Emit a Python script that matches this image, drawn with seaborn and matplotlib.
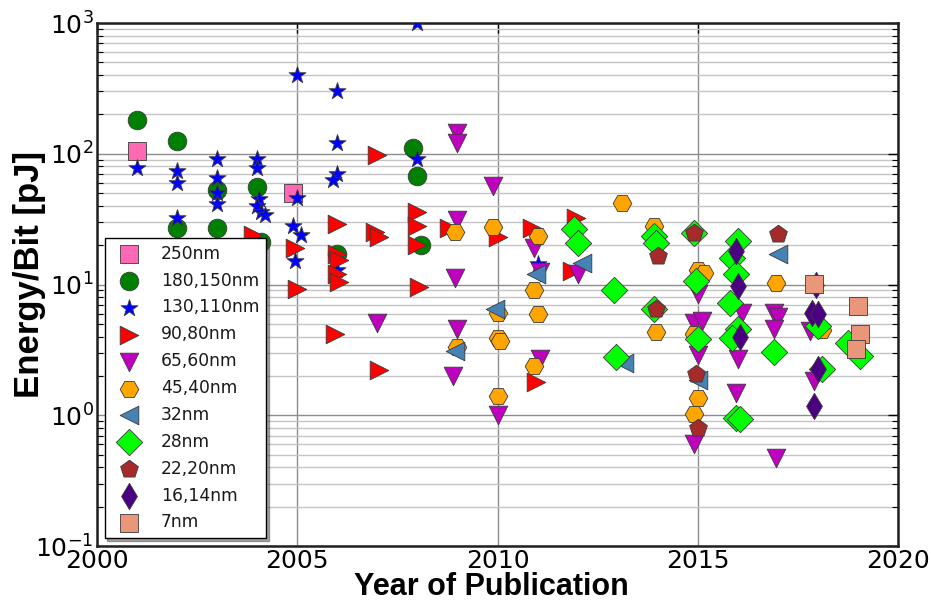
import matplotlib
matplotlib.use("Agg")
import matplotlib.pyplot as plt
import seaborn as sns
import pandas as pd
from matplotlib.ticker import LogLocator, NullFormatter

# ---- data: energy per bit [pJ] vs. year of publication, by technology node ----
nodes = ["250nm", "180,150nm", "130,110nm", "90,80nm", "65,60nm", "45,40nm",
         "32nm", "28nm", "22,20nm", "16,14nm", "7nm"]
node_colors = ["#ff69b4", "#008000", "#0000ff", "#ff0000", "#bf00bf", "#ffa500",
               "#4682b4", "#00ff00", "#a52a2a", "#4b0082", "#e9967a"]
node_markers = ["s", "o", "*", ">", "v", "H", "<", "D", "p", "d", "s"]

years_250 = [2001.0, 2004.9]
energy_250 = [105, 50]

years_180 = [2001.0, 2002.0, 2002.0, 2003.0, 2003.0, 2004.0, 2004.1, 2006.0, 2007.9, 2008.0, 2008.1]
energy_180 = [181, 125, 27, 53, 27, 56, 21, 17, 111, 68, 20]

years_130 = [2001.0, 2002.0, 2002.0, 2002.0, 2003.0, 2003.0, 2003.0, 2003.0,
             2004.0, 2004.0, 2004.05, 2004.0, 2004.1, 2004.2,
             2005.0, 2005.0, 2004.9, 2005.1, 2004.95,
             2006.0, 2006.0, 2006.0, 2005.9, 2006.0, 2008.0, 2008.0, 2011.0]
energy_130 = [78, 74, 60, 32, 91, 65, 50, 41,
              91, 78, 45, 40, 36, 34,
              400, 46, 28, 24, 15,
              300, 120, 70, 63, 13, 1000, 91, 14.4]

years_90 = [2003.9, 2004.95, 2005.0, 2006.0, 2006.0, 2006.05, 2006.0, 2006.05, 2005.95,
            2007.0, 2006.95, 2007.05, 2007.05, 2008.0, 2008.0, 2008.0, 2008.05,
            2008.8, 2010.0, 2010.85, 2010.95, 2011.95, 2011.85]
energy_90 = [24, 19, 9.2, 29, 17, 15.5, 12, 10.5, 4.2,
             97, 25, 23, 2.2, 36, 28, 20, 9.6,
             27, 23, 27, 1.8, 32, 12.7]

years_65 = [2007.0, 2009.0, 2009.0, 2009.0, 2008.95, 2009.0, 2008.9,
            2009.9, 2010.0, 2010.9, 2011.05, 2011.05, 2012.0,
            2015.0, 2014.9, 2015.1, 2015.0, 2014.9,
            2016.1, 2016.0, 2015.95,
            2016.9, 2017.0, 2016.9, 2016.95, 2017.8, 2017.9]
energy_65 = [5.1, 145, 120, 31, 11.2, 4.6, 2.0,
             57, 1.0, 19, 12.5, 2.7, 12,
             8.5, 5.1, 5.3, 2.9, 0.60,
             6.1, 2.7, 1.48,
             6.1, 5.6, 4.6, 0.47, 4.4, 1.83]

years_45 = [2008.95, 2009.0, 2009.9, 2010.0, 2010.0, 2010.05, 2010.0,
            2011.0, 2010.9, 2011.0, 2010.9, 2013.1, 2013.9, 2013.95,
            2015.0, 2015.15, 2014.9, 2015.0, 2014.9, 2016.95, 2018.1]
energy_45 = [25, 3.3, 27.5, 6.1, 3.9, 3.7, 1.4,
             23.5, 9.1, 5.9, 2.4, 42, 28, 4.3,
             13, 12.3, 4.2, 1.36, 1.02, 10.3, 4.5]

years_32 = [2008.95, 2009.95, 2010.95, 2012.1, 2013.15, 2015.0, 2017.0]
energy_32 = [3.1, 6.5, 12, 14.5, 2.5, 1.85, 17]

years_28 = [2011.9, 2012.0, 2012.9, 2012.95, 2013.9, 2013.95, 2013.9,
            2014.9, 2014.95, 2015.0,
            2016.0, 2015.85, 2015.95, 2015.8, 2016.0, 2015.85, 2015.95, 2016.05,
            2016.9, 2018.0, 2018.1, 2018.75, 2019.05]
energy_28 = [26.6, 20.8, 9.1, 2.8, 23.5, 20.8, 6.5,
             24.8, 10.6, 3.8,
             21.5, 16, 12, 7.2, 4.6, 3.9, 0.95, 0.93,
             3.05, 4.8, 2.26, 3.6, 2.85]

years_22 = [2014.0, 2013.95, 2014.9, 2014.95, 2015.0, 2017.0]
energy_22 = [16.5, 6.5, 24.8, 2.07, 0.80, 24.3]

years_16 = [2015.95, 2016.0, 2016.05, 2017.95, 2017.85, 2018.0, 2018.0, 2017.9]
energy_16 = [18, 9.7, 4.0, 10, 6.05, 5.9, 2.26, 1.18]

years_7 = [2017.9, 2019.0, 2019.05, 2018.95]
energy_7 = [10.1, 6.9, 4.2, 3.2]

series_years = [years_250, years_180, years_130, years_90, years_65, years_45,
                years_32, years_28, years_22, years_16, years_7]
series_energy = [energy_250, energy_180, energy_130, energy_90, energy_65, energy_45,
                 energy_32, energy_28, energy_22, energy_16, energy_7]

df = pd.concat(
    [pd.DataFrame({"year": yr, "energy": en, "node": nd})
     for nd, yr, en in zip(nodes, series_years, series_energy)],
    ignore_index=True,
)

# ---- styling ----
sns.set_theme(style="white")
plt.rcParams["font.family"] = ["DejaVu Sans"]
plt.rcParams["mathtext.fontset"] = "dejavusans"
plt.rcParams["text.color"] = "black"
plt.rcParams["axes.labelcolor"] = "black"

fig, ax = plt.subplots(figsize=(9.31, 6.03), dpi=100)
fig.subplots_adjust(left=97 / 931, right=898 / 931, top=1 - 23 / 603, bottom=1 - 546 / 603)

marker_area = {"*": 165}
for nd, col, mk in zip(nodes, node_colors, node_markers):
    sub = df[df["node"] == nd]
    sns.scatterplot(data=sub, x="year", y="energy", ax=ax, color=col, marker=mk,
                    s=marker_area.get(mk, 180), edgecolor="#3a3a3a", linewidth=0.6,
                    label=nd, zorder=3)

ax.set_yscale("log")
ax.set_ylim(0.1, 1000)
ax.set_xlim(2000, 2020)
ax.set_xticks([2000, 2005, 2010, 2015, 2020])
ax.yaxis.set_major_locator(LogLocator(base=10, numticks=10))
ax.yaxis.set_minor_locator(LogLocator(base=10, subs=range(2, 10), numticks=50))
ax.yaxis.set_minor_formatter(NullFormatter())

ax.grid(True, which="major", axis="both", color="#8c8c8c", linewidth=1.0, zorder=0)
ax.grid(True, which="minor", axis="y", color="#c4c4c4", linewidth=1.0, zorder=0)
ax.set_axisbelow(True)

ax.tick_params(axis="both", which="major", direction="in", length=7, width=1,
               labelsize=18, top=True, right=True, colors="black", pad=2.5)
ax.tick_params(axis="y", which="minor", direction="in", length=4, width=0.8,
               left=True, right=True, colors="black")
for sp in ax.spines.values():
    sp.set_color("#202020")
    sp.set_linewidth(1.8)

ax.set_xlabel("Year of Publication", fontsize=22, fontweight="bold",
              family=["Liberation Sans", "DejaVu Sans"], color="black")
ax.set_ylabel("Energy/Bit [pJ]", fontsize=25, fontweight="bold",
              family=["Liberation Sans", "DejaVu Sans"], color="black")
ax.xaxis.set_label_coords(0.492, -0.05)
ax.yaxis.set_label_coords(-0.064, 0.52)

leg = ax.legend(loc="lower left", fontsize=12.3, frameon=True, fancybox=False,
                shadow=True, framealpha=1, borderaxespad=0.45, labelspacing=0.52,
                handletextpad=0.9, borderpad=0.4, scatterpoints=1)
leg.get_frame().set_edgecolor("black")
leg.get_frame().set_linewidth(1.0)
for t in leg.get_texts():
    t.set_color("#1a1a1a")

fig.savefig("out.png", dpi=100)
